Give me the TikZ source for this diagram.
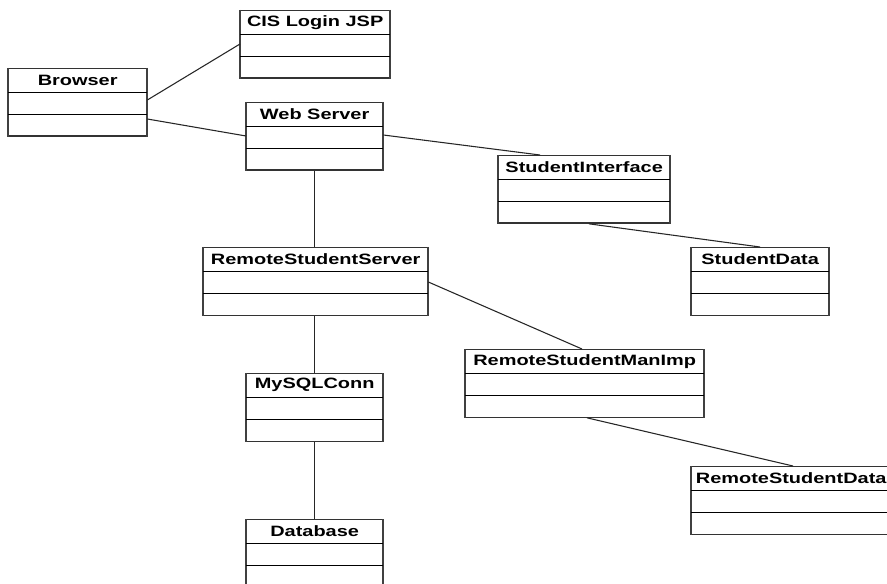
\documentclass[tikz,border=0pt]{standalone}
\usepackage{fontspec}
\newfontfamily\umlfont[FakeStretch=1.33]{Liberation Sans}
\usetikzlibrary{calc}
\tikzset{
  classbox/.style={draw=black!80, line width=1pt, inner sep=0pt, anchor=north west, fill=none},
  classside/.style={draw=black!75, line width=1.5pt},
  classtitle/.style={font=\umlfont\bfseries\fontsize{11.25pt}{13pt}\selectfont, text=black, inner sep=0pt},
  compline/.style={draw=black, line width=0.8pt},
  assoc/.style={draw=black!85, line width=0.8pt}
}
% name, left, top, right, title
\newcommand\umlclass[5]{%
  \node[classbox, minimum width={(#4-#2)*0.75pt}, minimum height={67.5*0.75pt}] (#1) at (#2,#3) {};
  \draw[classside] (#1.north west) -- (#1.south west) (#1.north east) -- (#1.south east);
  \node[classtitle] (#1-title) at ($(#1.north)+(0,12.25)$) {#5};
  \draw[compline] ($(#1.north west)+(0,24.5)$) -- ($(#1.north east)+(0,24.5)$);
  \draw[compline] ($(#1.north west)+(0,46.5)$) -- ($(#1.north east)+(0,46.5)$);
}
\begin{document}
\begin{tikzpicture}[x=0.75pt,y=-0.75pt]
\useasboundingbox (0,0) rectangle (887,584);
\fill[white] (0,0) rectangle (887,584);
\clip (0,0) rectangle (887,584);

\umlclass{browser}{8}{68}{146}{Browser}
\umlclass{cis}{240}{10}{389}{CIS Login JSP}
\umlclass{web}{246}{102}{382}{Web Server}
\umlclass{si}{498}{155}{669}{StudentInterface}
\umlclass{sd}{691}{247}{828}{StudentData}
\umlclass{rss}{203}{247}{427}{RemoteStudentServer}
\umlclass{rsmi}{465}{349}{703}{RemoteStudentManImp}
\umlclass{mysql}{246}{373}{382}{MySQLConn}
\umlclass{db}{246}{519}{382}{Database}
\umlclass{rsd}{691}{466}{890}{RemoteStudentData}

\draw[assoc] ($(browser.north east)+(0,32)$) -- ($(cis.north west)+(0,34)$);
\draw[assoc] ($(browser.north east)+(0,51)$) -- ($(web.north west)+(0,34)$);
\draw[assoc] ($(web.north east)+(0,33)$) -- ($(si.north west)+(42,0)$);
\draw[assoc] (web.south) -- (web.south |- rss.north);
\draw[assoc] ($(si.south west)+(91,0)$) -- ($(sd.north west)+(69,0)$);
\draw[assoc] ($(rss.north east)+(0,35)$) -- ($(rsmi.north west)+(117,0)$);
\draw[assoc] (mysql.north) -- (mysql.north |- rss.south);
\draw[assoc] (mysql.south) -- (db.north);
\draw[assoc] ($(rsmi.south west)+(122,0)$) -- ($(rsd.north west)+(102,0)$);
\end{tikzpicture}
\end{document}
